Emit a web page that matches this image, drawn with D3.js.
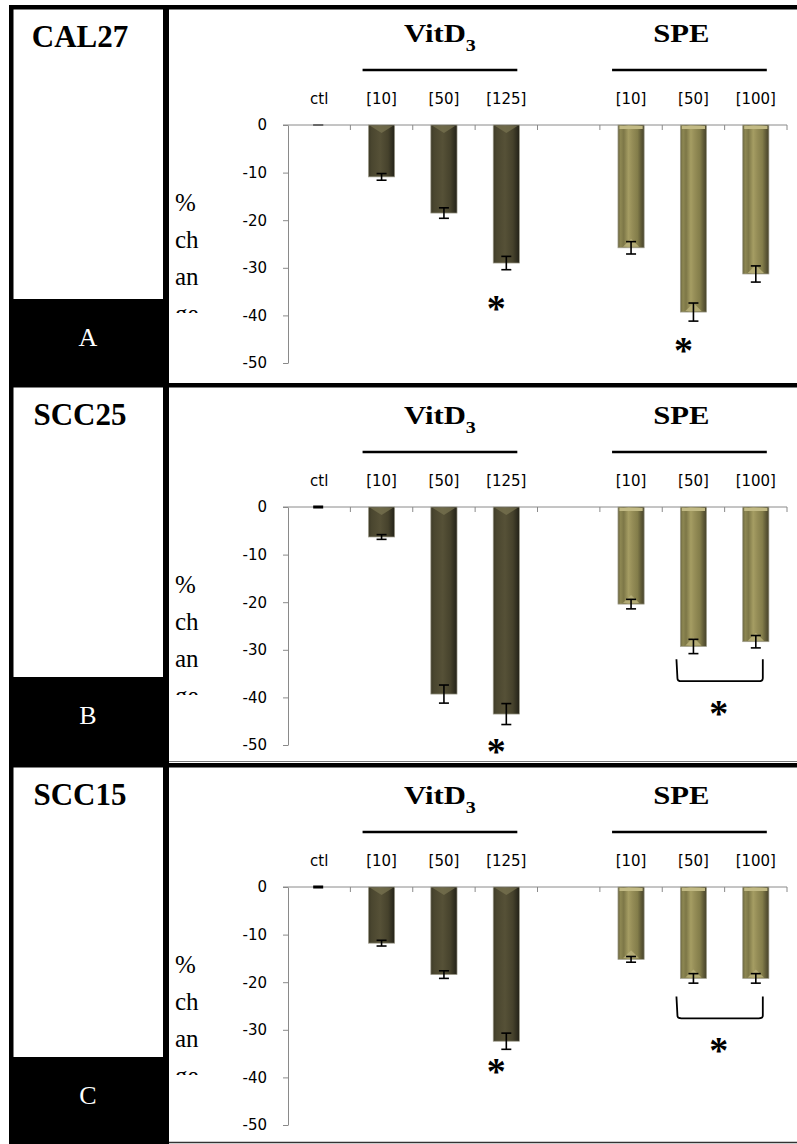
<!DOCTYPE html>
<html>
<head>
<meta charset="utf-8">
<script src="https://cdn.jsdelivr.net/npm/d3@7"></script>
<style>
  body { margin: 0; background: #fff; }
  svg { display: block; }
</style>
</head>
<body>
<div id="chart"></div>
<script>
// categories along the x axis (index 4 is the empty gap between groups)
var categories = ["ctl", "[10]", "[50]", "[125]", "", "[10]", "[50]", "[100]"];
var treatment = ["ctl", "vit", "vit", "vit", null, "spe", "spe", "spe"];
var yTicks = [0, -10, -20, -30, -40, -50];

var cellLines = ["CAL27", "SCC25", "SCC15"];
var panelLetters = ["A", "B", "C"];

// % change
var valuesA = [0, -10.9, -18.5, -29.0, null, -25.8, -39.3, -31.3];
var errorsA = [0, 0.7, 1.1, 1.4, null, 1.3, 1.9, 1.7];
var valuesB = [0, -6.3, -39.3, -43.5, null, -20.4, -29.3, -28.3];
var errorsB = [0.15, 0.5, 1.9, 2.2, null, 1.0, 1.5, 1.3];
var valuesC = [0, -11.8, -18.4, -32.4, null, -15.2, -19.2, -19.2];
var errorsC = [0.15, 0.6, 0.8, 1.7, null, 0.6, 1.0, 1.0];

// significance marks: [category index, y value]
var starsA = [[3, -37.2], [6, -46.0]];
var starsB = [[3, -50.0], [6.5, -42.0]];
var starsC = [[3, -37.4], [6.5, -33.0]];
// brackets: [from index, to index, top value, bottom value]
var bracketsA = [];
var bracketsB = [[6, 7, -32.0, -36.6]];
var bracketsC = [[6, 7, -23.0, -27.6]];

var panels = [
    {values: valuesA, errors: errorsA, stars: starsA, brackets: bracketsA},
    {values: valuesB, errors: errorsB, stars: starsB, brackets: bracketsB},
    {values: valuesC, errors: errorsC, stars: starsC, brackets: bracketsC},
];

var width = 797,
    height = 1144,
    chartShift = [0, 382, 762],
    frameTop = [5, 383, 763],
    serif = "'Liberation Serif', 'Times New Roman', serif",
    sans = "'DejaVu Sans', Verdana, sans-serif";

let svg = d3.select("#chart").append("svg")
    .attr("width", width)
    .attr("height", height);

let defs = svg.append("defs");

// dark olive bars (VitD3)
let gv = defs.append("linearGradient").attr("id", "grad_vit");
[[0, "#3d3a27"], [0.12, "#4a462f"], [0.45, "#565137"], [0.75, "#46422c"], [0.92, "#2e2c1e"], [1, "#232118"]]
    .forEach(s => gv.append("stop").attr("offset", s[0]).attr("stop-color", s[1]));

// khaki bars (SPE)
let gs = defs.append("linearGradient").attr("id", "grad_spe");
[[0, "#6a6540"], [0.1, "#8d8752"], [0.22, "#7d7747"], [0.4, "#a59d63"], [0.55, "#958d57"], [0.75, "#837d4a"], [0.9, "#5c5735"], [1, "#47432b"]]
    .forEach(s => gs.append("stop").attr("offset", s[0]).attr("stop-color", s[1]));

let x = d3.scaleBand()
    .domain(d3.range(categories.length))
    .range([288, 787])
    .paddingInner(0.58)
    .paddingOuter(0.29);

let y = d3.scaleLinear()
    .domain([-50, 0])
    .range([363, 125]);

let bw = x.bandwidth();
let cx = i => x(Math.floor(i)) + bw / 2 + (i % 1) * x.step();

// ---- frame / left column ----
let frame = svg.append("g");
panels.forEach((p, k) => {
    let top = frameTop[k];
    let bottom = k < 2 ? frameTop[k + 1] : height;
    // black letter box
    frame.append("rect")
        .attr("x", 9).attr("y", top + 294)
        .attr("width", 160).attr("height", bottom - top - 294)
        .attr("fill", "#000");
    // horizontal rule at panel top
    frame.append("rect")
        .attr("x", 9).attr("y", top)
        .attr("width", width - 9).attr("height", 4.5)
        .attr("fill", "#000");
    frame.append("text")
        .attr("x", 80).attr("y", top + 42)
        .attr("text-anchor", "middle")
        .style("font-family", serif)
        .style("font-weight", "bold")
        .style("font-size", "31px")
        .text(cellLines[k]);
    frame.append("text")
        .attr("x", 88).attr("y", top + 341)
        .attr("text-anchor", "middle")
        .attr("fill", "#fff")
        .style("font-family", serif)
        .style("font-size", "26px")
        .text(panelLetters[k]);
});
// thin line above panel C rule
frame.append("line")
    .attr("x1", 169).attr("x2", width)
    .attr("y1", 761.5).attr("y2", 761.5)
    .attr("stroke", "#777").attr("stroke-width", 1);
// bottom line
frame.append("line")
    .attr("x1", 169).attr("x2", width)
    .attr("y1", 1142.5).attr("y2", 1142.5)
    .attr("stroke", "#333").attr("stroke-width", 1.5);
// left edge and divider
frame.append("rect").attr("x", 9).attr("y", 5).attr("width", 4.5).attr("height", height - 5).attr("fill", "#000");
frame.append("rect").attr("x", 163).attr("y", 5).attr("width", 6).attr("height", height - 5).attr("fill", "#000");

// ---- chart panels ----
panels.forEach((p, k) => {
    let g = svg.append("g").attr("transform", `translate(0, ${chartShift[k]})`);

    // clipped y label "% change"
    let clipId = "clip_ylab_" + k;
    g.append("clipPath").attr("id", clipId)
        .append("rect").attr("x", 170).attr("y", 180).attr("width", 60).attr("height", 133);
    let lab = g.append("g").attr("clip-path", `url(#${clipId})`)
        .style("font-family", serif)
        .style("font-size", "25px");
    ["%", "ch", "an", "ge"].forEach((s, i) => {
        lab.append("text").attr("x", 175).attr("y", 211 + i * 37).text(s);
    });

    // group headers
    let groupsDef = [["vit", "VitD", "3"], ["spe", "SPE", null]];
    groupsDef.forEach(gd => {
        let idx = treatment.map((t, i) => t === gd[0] ? i : -1).filter(i => i >= 0);
        let x0 = cx(idx[0]) - 19, x1 = cx(idx[idx.length - 1]) + 11;
        g.append("line")
            .attr("x1", x0).attr("x2", x1)
            .attr("y1", 70).attr("y2", 70)
            .attr("stroke", "#000").attr("stroke-width", 2.5);
        let t = g.append("text")
            .attr("transform", `translate(${(x0 + x1) / 2 - (gd[2] ? 0 : 8)}, 42) scale(1.18, 1)`)
            .attr("text-anchor", "middle")
            .style("font-family", serif)
            .style("font-weight", "bold")
            .style("font-size", "26px");
        t.append("tspan").text(gd[1]);
        if (gd[2]) {
            t.append("tspan").attr("dy", 9).style("font-size", "17px").text(gd[2]);
        }
    });

    // category labels
    g.append("g").selectAll("text")
        .data(categories)
        .join("text")
        .attr("x", (d, i) => cx(i))
        .attr("y", 104)
        .attr("text-anchor", "middle")
        .style("font-family", sans)
        .style("font-size", "15px")
        .text(d => d);

    // y axis
    let yAxis = g.append("g")
        .attr("transform", "translate(288, 0)")
        .call(d3.axisLeft(y).tickValues(yTicks).tickFormat(d => String(d))
            .tickSize(5).tickSizeOuter(0).tickPadding(16));
    yAxis.select(".domain").attr("stroke", "#8a8a8a");
    yAxis.selectAll(".tick line").attr("stroke", "#8a8a8a");
    yAxis.selectAll(".tick text")
        .style("font-family", sans)
        .style("font-size", "15px")
        .attr("fill", "#000");

    // x axis line at zero with boundary ticks pointing down
    g.append("line")
        .attr("x1", 283).attr("x2", 787)
        .attr("y1", y(0)).attr("y2", y(0))
        .attr("stroke", "#8a8a8a");
    g.append("g").selectAll("line")
        .data(d3.range(1, categories.length + 1))
        .join("line")
        .attr("x1", d => x.range()[0] + d * x.step())
        .attr("x2", d => x.range()[0] + d * x.step())
        .attr("y1", y(0)).attr("y2", y(0) + 5)
        .attr("stroke", "#8a8a8a");

    // bars
    let data = p.values.map((v, i) => ({i: i, v: v, e: p.errors[i], t: treatment[i]}))
        .filter(d => d.v !== null && d.v < 0);
    let bars = g.append("g");
    bars.selectAll("rect")
        .data(data)
        .join("rect")
        .attr("x", d => x(d.i))
        .attr("y", y(0))
        .attr("width", bw)
        .attr("height", d => y(d.v) - y(0))
        .attr("fill", d => d.t === "vit" ? "url(#grad_vit)" : "url(#grad_spe)")
        .attr("stroke", "#a09e8e")
        .attr("stroke-width", 0.7);
    // bevel highlights
    bars.selectAll("path.top")
        .data(data.filter(d => d.t === "vit"))
        .join("path")
        .attr("class", "top")
        .attr("d", d => {
            let x0 = x(d.i) + 2, x1 = x(d.i) + bw - 2, yy = y(0) + 1;
            return `M${x0},${yy} L${x1},${yy} L${(x0 + x1) / 2},${yy + 7} Z`;
        })
        .attr("fill", "#75704f")
        .attr("opacity", 0.8);
    bars.selectAll("rect.top")
        .data(data.filter(d => d.t === "spe"))
        .join("rect")
        .attr("class", "top")
        .attr("x", d => x(d.i) + 1.5)
        .attr("y", y(0) + 1)
        .attr("width", bw - 3)
        .attr("height", 3)
        .attr("fill", "#c2ba84");
    bars.selectAll("path.bot")
        .data(data.filter(d => d.t === "spe"))
        .join("path")
        .attr("class", "bot")
        .attr("d", d => {
            let x0 = x(d.i) + 5, x1 = x(d.i) + bw - 5, yy = y(d.v) - 1;
            return `M${x0},${yy} L${x1},${yy} L${(x0 + x1) / 2},${yy - 8} Z`;
        })
        .attr("fill", "#b8b07a")
        .attr("opacity", 0.85);

    // error bars
    let err = g.append("g").attr("stroke", "#000").attr("stroke-width", 1.6);
    p.values.forEach((v, i) => {
        if (v === null) return;
        let e = p.errors[i];
        let c = cx(i) + (v < 0 ? 0 : -1);
        let col = e > 0 ? "#000" : "#666";
        err.append("line").attr("x1", c).attr("x2", c).attr("y1", y(v + e)).attr("y2", y(v - e)).attr("stroke", col);
        err.append("line").attr("x1", c - 5).attr("x2", c + 5).attr("y1", y(v + e)).attr("y2", y(v + e)).attr("stroke", col);
        err.append("line").attr("x1", c - 5).attr("x2", c + 5).attr("y1", y(v - e)).attr("y2", y(v - e)).attr("stroke", col);
    });

    // brackets
    p.brackets.forEach(b => {
        let x0 = cx(b[0]) - 17, x1 = cx(b[1]) + 7;
        g.append("path")
            .attr("d", `M${x0},${y(b[2])} L${x0 + 1},${y(b[3]) - 3} Q${x0 + 1},${y(b[3])} ${x0 + 5},${y(b[3])} L${x1 - 4},${y(b[3])} Q${x1},${y(b[3])} ${x1},${y(b[3]) - 3} L${x1},${y(b[2])}`)
            .attr("fill", "none")
            .attr("stroke", "#000")
            .attr("stroke-width", 1.8);
    });

    // stars
    g.append("g").selectAll("text")
        .data(p.stars)
        .join("text")
        .attr("x", d => cx(d[0]) - (d[0] % 1 ? 6 : 10))
        .attr("y", d => y(d[1]) + 19)
        .attr("text-anchor", "middle")
        .style("font-family", serif)
        .style("font-weight", "bold")
        .style("font-size", "38px")
        .text("*");
});
</script>
</body>
</html>
